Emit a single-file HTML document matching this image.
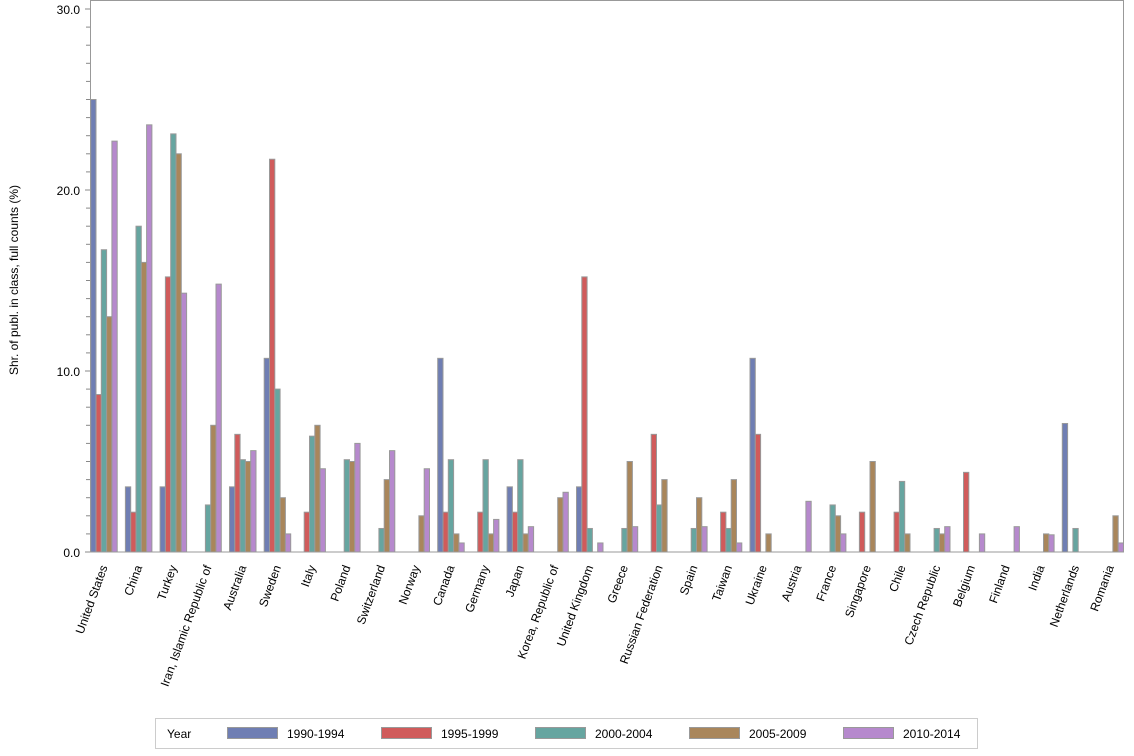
<!DOCTYPE html>
<html><head><meta charset="utf-8"><style>body{margin:0;background:#fff}svg{display:block;font-family:"Liberation Sans",Arial,sans-serif}</style></head><body>
<svg id="s" width="1134" height="756" xmlns="http://www.w3.org/2000/svg">
<rect x="0" y="0" width="1134" height="756" fill="#fff"/>
<g id="g"></g>
<text transform="translate(18,280) rotate(-90)" text-anchor="middle" font-size="12" fill="#000">Shr. of publ. in class, full counts (%)</text>
<rect x="155.5" y="718.5" width="822" height="30" fill="#fff" stroke="#ccc"/>
<text x="167" y="738" font-size="12">Year</text>
<rect x="227.5" y="727.5" width="50" height="11" fill="#6f7eb3" stroke="#999"/><text x="287" y="738" font-size="12">1990-1994</text>
<rect x="381.5" y="727.5" width="50" height="11" fill="#d05b5b" stroke="#999"/><text x="441" y="738" font-size="12">1995-1999</text>
<rect x="535.5" y="727.5" width="50" height="11" fill="#66a5a0" stroke="#999"/><text x="595" y="738" font-size="12">2000-2004</text>
<rect x="689.5" y="727.5" width="50" height="11" fill="#a9865b" stroke="#999"/><text x="749" y="738" font-size="12">2005-2009</text>
<rect x="843.5" y="727.5" width="50" height="11" fill="#b689cd" stroke="#999"/><text x="903" y="738" font-size="12">2010-2014</text>
</svg>
<script>
const names=["United States","China","Turkey","Iran, Islamic Republic of","Australia","Sweden","Italy","Poland","Switzerland","Norway","Canada","Germany","Japan","Korea, Republic of","United Kingdom","Greece","Russian Federation","Spain","Taiwan","Ukraine","Austria","France","Singapore","Chile","Czech Republic","Belgium","Finland","India","Netherlands","Romania"];
const v=[[25,8.7,16.7,13,22.7],[3.6,2.2,18,16,23.6],[3.6,15.2,23.1,22,14.3],[0,0,2.6,7,14.8],[3.6,6.5,5.1,5,5.6],[10.7,21.7,9,3,1],[0,2.2,6.4,7,4.6],[0,0,5.1,5,6],[0,0,1.3,4,5.6],[0,0,0,2,4.6],[10.7,2.2,5.1,1,0.5],[0,2.2,5.1,1,1.8],[3.6,2.2,5.1,1,1.4],[0,0,0,3,3.3],[3.6,15.2,1.3,0,0.5],[0,0,1.3,5,1.4],[0,6.5,2.6,4,0],[0,0,1.3,3,1.4],[0,2.2,1.3,4,0.5],[10.7,6.5,0,1,0],[0,0,0,0,2.8],[0,0,2.6,2,1],[0,2.2,0,5,0],[0,2.2,3.9,1,0],[0,0,1.3,1,1.4],[0,4.4,0,0,1],[0,0,0,0,1.4],[0,0,0,1,0.95],[7.1,0,1.3,0,0],[0,0,0,2,0.5]];
const col=["#6f7eb3","#d05b5b","#66a5a0","#a9865b","#b689cd"];
const y0=552,k=18.1,d=34.7,bw=5.3,x0=90.7;
let h='';
for(let i=0;i<=30;i++){const y=y0-i*k;h+=`<line x1="${i%10?86:85}" x2="90" y1="${y}" y2="${y}" stroke="#888"/>`;if(i%10==0)h+=`<text x="80" y="${y+5}" text-anchor="end" font-size="12">${i}.0</text>`;}
names.forEach((n,i)=>{const gx=x0+i*d;v[i].forEach((val,j)=>{if(val>0){const hh=val*k;h+=`<rect x="${gx+j*bw}" y="${y0-hh}" width="${bw}" height="${hh}" fill="${col[j]}" stroke="#999" stroke-width="1"/>`;}});
const cx=gx+13+4;h+=`<text transform="translate(${cx},567) rotate(-70)" text-anchor="end" font-size="12">${n}</text>`;});
h+=`<rect x="90.5" y="0.5" width="1033" height="${y0-0.5}" fill="none" stroke="#999"/>`;
document.getElementById('g').innerHTML=h;
</script>
</body></html>
